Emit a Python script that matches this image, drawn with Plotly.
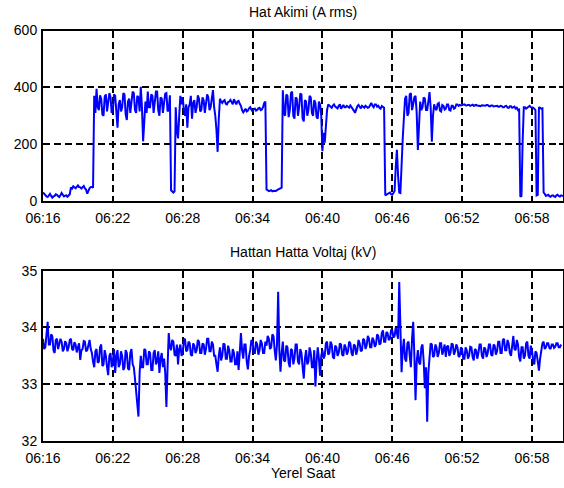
import pandas as pd
import plotly.graph_objects as go
from plotly.subplots import make_subplots

# ---- data (6-second samples) --------------------------------------------
start_time = "2000-01-01 06:16:00"
sample_seconds = 6

current_A = [
    # 06:16 - 06:18:20
    30, 24, 20, 16, 14, 22, 25, 18, 12, 16, 18, 24, 22, 17, 14, 20, 28, 22, 16, 19, 20, 15, 18, 24,
    48, 44, 52, 47, 45, 50, 55, 49, 48, 44, 50, 53, 44, 40, 26, 38, 45, 49, 50, 47,
    370, 310, 395, 330, 320, 372, 360, 305, 300, 368, 375, 315, 340, 380, 365, 310, 320, 375,
    370, 300, 258, 340, 355, 315, 330, 380, 375, 305, 285, 350, 360, 310, 340, 385, 380, 320,
    310, 370, 365, 315, 402, 330, 210, 300, 350, 310, 385, 330, 330, 375, 370, 310, 345, 385,
    385, 320, 300, 365, 360, 310, 345, 378, 380, 315, 320, 372,
    38, 32, 30, 34, 330, 250, 220, 300, 370, 340,
    365, 320, 300, 340, 258, 330, 340, 370, 290, 345, 355, 310, 330, 372, 360, 315, 320, 365,
    355, 310, 340, 375, 365, 320, 330, 368, 390, 330, 300, 250, 173, 290,
    360, 350, 345, 352, 355, 342, 340, 348, 350, 356, 345, 340, 358, 348, 340, 350, 352, 342,
    335, 320, 312, 318, 325, 315, 318, 326, 330, 322, 315, 324, 325, 318, 320, 326, 328, 320,
    322, 330, 345, 350,
    40, 38, 35, 36, 38, 34, 36, 35, 35, 38, 40, 42, 45, 47,
    390, 310, 300, 375, 370, 295, 320, 380, 385, 300, 290, 365, 360, 300, 330, 378, 375, 290,
    280, 355, 350, 300, 320, 370, 365, 310, 300, 355, 345, 295, 290, 350, 340, 300,
    175, 240, 205, 280, 320, 340,
    335, 330, 328, 336, 340, 332, 330, 326, 335, 340, 325, 332, 338, 330, 330, 335, 332, 328,
    336, 330, 328, 318, 310, 325, 333, 338, 330, 326, 335, 332, 328, 335, 332, 328, 330, 338,
    345, 335, 330, 340, 340, 332, 335, 328, 325, 334, 330, 328,
    20, 22, 25, 28, 30, 24, 22, 28, 35, 120, 180, 90, 30, 28,
    150, 220, 292, 360, 370, 300, 310, 375, 380, 320,
    340, 365, 370, 310, 180, 300, 350, 320, 330, 365, 360, 320, 320, 350, 383, 330, 209, 300,
    340, 325, 320, 342, 345, 318, 315, 338, 335, 322, 325, 340, 340, 320, 318, 335, 335, 325,
    328, 340, 340, 335,
    338, 336, 337, 339, 340, 337, 336, 338, 338, 335, 337, 339, 335, 337, 338, 336, 336, 334,
    334, 337, 337, 335, 335, 338, 338, 334, 333, 336, 336, 333, 334, 336, 335, 332, 332, 335,
    334, 330, 330, 334, 335, 329, 328, 333, 333, 328, 330, 332, 325, 328, 320, 322,
    15, 18, 210, 330, 330, 325, 328, 332, 335, 330, 330, 328,
    325, 320, 20, 22, 330, 328, 325, 326, 30, 25,
    18, 20, 22, 17, 15, 19, 20, 16, 14, 20, 22, 18, 16, 20, 18, 17,
]

voltage_kV = [
    33.80, 33.62, 33.65, 33.90, 34.10, 33.70, 33.70, 33.88, 33.85, 33.60, 33.55, 33.78,
    33.80, 33.62, 33.70, 33.80, 33.75, 33.58, 33.62, 33.76, 33.72, 33.58, 33.65, 33.78,
    33.80, 33.62, 33.60, 33.74, 33.70, 33.56, 33.65, 33.72, 33.43, 33.60, 33.62, 33.76,
    33.75, 33.58, 33.60, 33.72, 33.78, 33.62, 33.55, 33.40,
    33.30, 33.58, 33.62, 33.38, 33.40, 33.65, 33.70, 33.32, 33.35, 33.60, 33.50, 33.30,
    33.16, 33.50,
    33.55, 33.30, 33.40, 33.62, 33.20, 33.50, 33.60, 33.30, 33.35, 33.58, 33.50, 33.25,
    33.30, 33.60, 33.55, 33.28, 33.25, 33.55, 33.62, 33.35, 33.30, 33.10, 32.90, 32.60,
    32.43, 33.20, 33.50, 33.30, 33.30, 33.62, 33.60, 33.35, 33.35, 33.58, 33.55, 33.25,
    33.25, 33.55, 33.60, 33.35, 33.40, 33.58, 33.20, 33.45, 33.55, 33.30, 33.45, 33.20,
    32.60, 33.30, 33.90, 33.65,
    33.60, 33.78, 33.75, 33.52, 33.50, 33.70, 33.35, 33.62, 33.70, 33.50, 33.55, 33.78,
    33.80, 33.58, 33.60, 33.75, 33.72, 33.52, 33.50, 33.72, 33.68, 33.55, 33.60, 33.78,
    33.75, 33.55, 33.55, 33.72, 33.70, 33.52, 33.62, 33.80, 33.80, 33.58, 33.58, 33.75,
    33.70, 33.50, 33.50, 33.35,
    33.22, 33.50, 33.65, 33.42, 33.50, 33.72, 33.70, 33.45, 33.45, 33.68, 33.60, 33.40,
    33.40, 33.62, 33.55, 33.35, 33.35, 33.58, 33.25, 33.55, 33.90, 33.60,
    33.45, 33.70, 33.70, 33.40, 33.26, 33.50, 33.60, 33.78,
    33.75, 33.55, 33.55, 33.75, 33.70, 33.52, 33.60, 33.78, 33.72, 33.55, 33.55, 33.75,
    33.68, 33.85,
    33.80, 33.62, 33.65, 33.88, 33.85, 33.60, 33.42, 33.70, 34.63, 33.60, 33.22, 33.55,
    33.75, 33.42, 33.40, 33.68, 33.65, 33.38, 33.30, 33.62, 33.60, 33.35, 33.45, 33.70,
    33.70, 33.40, 33.35, 33.62, 33.55, 33.30, 33.10, 33.45, 33.60, 33.35, 33.40, 33.65,
    33.55, 33.30, 33.30, 33.60, 32.96, 33.40, 33.65, 33.45,
    33.15, 33.50, 33.60, 33.45,
    33.50, 33.72, 33.75, 33.52, 33.55, 33.75, 33.70, 33.48, 33.45, 33.68, 33.65, 33.50,
    33.55, 33.72, 33.70, 33.52, 33.50, 33.70, 33.65, 33.52, 33.58, 33.75, 33.72, 33.55,
    33.50, 33.70, 33.68, 33.52, 33.60, 33.78,
    33.72, 33.58, 33.60, 33.80, 33.78, 33.62, 33.68, 33.85, 33.80, 33.65, 33.65, 33.82,
    33.78, 33.66, 33.70, 33.88, 33.85, 33.70, 33.72, 33.90, 33.95, 33.75, 33.75, 33.92,
    33.90, 33.78, 33.80, 33.95, 33.95, 33.82, 33.85, 34.00, 33.92, 33.80,
    34.80, 33.90, 33.21, 33.60,
    33.80, 33.45, 33.40, 33.72, 33.75, 33.50, 33.30, 33.80, 34.10, 33.50, 32.72, 33.40,
    33.60, 33.38, 33.35, 33.65, 33.70, 33.40, 32.93, 33.30, 32.34, 33.20, 33.55, 33.72,
    33.70, 33.48, 33.50, 33.70, 33.65, 33.48, 33.55, 33.72, 33.72, 33.52, 33.60, 33.70,
    33.48, 33.66, 33.68, 33.50, 33.55, 33.72, 33.70, 33.52, 33.58, 33.70, 33.65, 33.48,
    33.50, 33.65,
    33.62, 33.45, 33.45, 33.65, 33.60, 33.45, 33.50, 33.66, 33.65, 33.48, 33.42, 33.62,
    33.60, 33.45, 33.55, 33.70, 33.70, 33.50, 33.45, 33.65, 33.62, 33.48, 33.55, 33.70,
    33.70, 33.52, 33.50, 33.70, 33.68, 33.52, 33.58, 33.75, 33.75, 33.55, 33.55, 33.78,
    33.80, 33.60, 33.60, 33.78, 33.72, 33.55, 33.50, 33.72, 33.85, 33.62, 33.60, 33.78,
    33.70, 33.48, 33.40, 33.65, 33.65, 33.45, 33.50, 33.72, 33.75, 33.50, 33.45, 33.68,
    33.60, 33.42, 33.35, 33.58, 33.55, 33.40, 33.24, 33.45, 33.60, 33.72, 33.75, 33.62,
    33.65, 33.72, 33.72, 33.64, 33.62, 33.70, 33.70, 33.64, 33.66, 33.72, 33.72, 33.65,
    33.65, 33.70,
]

tick_labels = ["06:16", "06:22", "06:28", "06:34", "06:40", "06:46", "06:52", "06:58"]
x_end = "2000-01-01 07:00:40"

title_top = "Hat Akimi (A rms)"
title_bottom = "Hattan Hatta Voltaj (kV)"
x_title = "Yerel Saat"

# ---- build -------------------------------------------------------------
t0 = pd.Timestamp(start_time)
t_current = [t0 + pd.Timedelta(seconds=sample_seconds * i) for i in range(len(current_A))]
t_voltage = [t0 + pd.Timedelta(seconds=sample_seconds * i) for i in range(len(voltage_kV))]
tick_vals = [pd.Timestamp("2000-01-01 " + s) for s in tick_labels]

FONT = "Liberation Sans, Arial, sans-serif"
W, H = 564, 488
x0, x1 = 43 / W, 563 / W

fig = make_subplots(rows=2, cols=1)
fig.add_trace(go.Scatter(x=t_current, y=current_A, mode="lines",
                         line=dict(color="#0000FF", width=2)), row=1, col=1)
fig.add_trace(go.Scatter(x=t_voltage, y=voltage_kV, mode="lines",
                         line=dict(color="#0000FF", width=2)), row=2, col=1)

common_axis = dict(
    showline=True, linecolor="black", linewidth=2, mirror="allticks",
    ticks="inside", ticklen=4, tickwidth=2, tickcolor="black",
    showgrid=True, gridcolor="black", gridwidth=1.8, griddash="7px,4px",
    zeroline=False, automargin=False,
    tickfont=dict(family=FONT, size=14, color="black"),
)

for r in (1, 2):
    fig.update_xaxes(common_axis, row=r, col=1, type="date",
                     range=[t0, pd.Timestamp(x_end)],
                     tickmode="array", tickvals=tick_vals, ticktext=tick_labels,
                     ticklabelstandoff=3)

fig.update_yaxes(common_axis, row=1, col=1, range=[0, 600],
                 tickvals=[0, 200, 400, 600], ticklabelstandoff=1)
fig.update_yaxes(common_axis, row=2, col=1, range=[32, 35],
                 tickvals=[32, 33, 34, 35], ticklabelstandoff=1)

fig.update_layout(
    width=W, height=H, showlegend=False,
    margin=dict(l=0, r=0, t=0, b=0, autoexpand=False),
    paper_bgcolor="white", plot_bgcolor="white",
    font=dict(family=FONT, size=14, color="black"),
    xaxis=dict(domain=[x0, x1]), xaxis2=dict(domain=[x0, x1]),
    yaxis=dict(domain=[(H - 201) / H, (H - 30.5) / H]),
    yaxis2=dict(domain=[(H - 441) / H, (H - 270.7) / H]),
    annotations=[
        dict(text=title_top, x=303 / W, y=1 - 12 / H, xref="paper", yref="paper",
             showarrow=False, font=dict(family=FONT, size=14), xanchor="center", yanchor="middle"),
        dict(text=title_bottom, x=303 / W, y=1 - 252 / H, xref="paper", yref="paper",
             showarrow=False, font=dict(family=FONT, size=14), xanchor="center", yanchor="middle"),
        dict(text=x_title, x=303 / W, y=1 - 473 / H, xref="paper", yref="paper",
             showarrow=False, font=dict(family=FONT, size=14), xanchor="center", yanchor="middle"),
    ],
)

fig.write_html("out.html")
